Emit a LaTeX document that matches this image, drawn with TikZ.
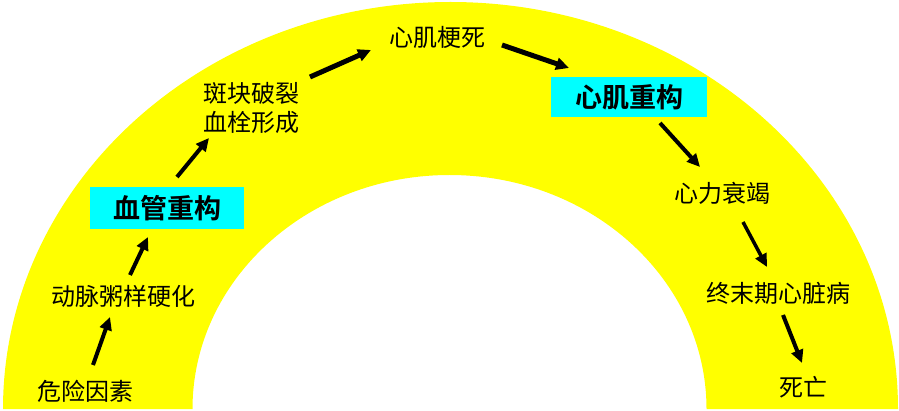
\documentclass[tikz,border=0pt]{standalone}
\usepackage{fontspec}
\newfontfamily\cjk{Noto Sans CJK SC}[BoldFont={Noto Sans CJK SC Bold}]
\usetikzlibrary{arrows.meta}
\definecolor{bandyellow}{RGB}{255,255,0}
\definecolor{boxcyan}{RGB}{0,255,255}
\tikzset{
  lbl/.style={font=\cjk\fontsize{24}{29}\selectfont, inner sep=0pt, align=center, text=black},
  boxlbl/.style={font=\cjk\bfseries\fontsize{27}{30}\selectfont, fill=boxcyan, inner sep=0pt, text=black},
  flow/.style={-{Triangle[length=13pt,width=12pt]}, line width=4.5pt, black}
}
\begin{document}
\begin{tikzpicture}[x=1pt,y=-1pt]
\useasboundingbox (0,0) rectangle (899,411);
\fill[white] (0,0) rectangle (899,411);
\fill[bandyellow] (3,409) arc[start angle=180,end angle=360,x radius=447.5,y radius=407]
  -- (706.5,409) arc[start angle=360,end angle=180,x radius=257,y radius=234] -- cycle;
% nodes
\node[lbl] (a) at (85,391) {危险因素};
\node[lbl] (b) at (123,296) {动脉粥样硬化};
\node[boxlbl, minimum width=154pt, minimum height=42pt] (c) at (167,208) {血管重构};
\node[lbl] (d) at (251,108) {斑块破裂\\血栓形成};
\node[lbl] (e) at (437,37) {心肌梗死};
\node[boxlbl, minimum width=156pt, minimum height=40pt] (f) at (629,97) {心肌重构};
\node[lbl] (g) at (722,193) {心力衰竭};
\node[lbl] (h) at (778,293) {终末期心脏病};
\node[lbl] (i) at (803,387) {死亡};
% arrow anchors
\coordinate (a1) at (93,365);  \coordinate (a2) at (110,317);
\coordinate (b1) at (130,275); \coordinate (b2) at (148,237);
\coordinate (c1) at (177,177); \coordinate (c2) at (209,138);
\coordinate (d1) at (310,77);  \coordinate (d2) at (371,50);
\coordinate (e1) at (502,45);  \coordinate (e2) at (569,68);
\coordinate (f1) at (660,123); \coordinate (f2) at (700,167);
\coordinate (g1) at (743,222); \coordinate (g2) at (767,267);
\coordinate (h1) at (783,315); \coordinate (h2) at (802,363);
\draw[flow, line width=4pt] (a1) -- (a2);
\draw[flow, line width=4pt] (b1) -- (b2);
\draw[flow, line width=4pt] (c1) -- (c2);
\draw[flow, line width=5pt] (d1) -- (d2);
\draw[flow, line width=5pt] (e1) -- (e2);
\draw[flow, line width=4pt] (f1) -- (f2);
\draw[flow, line width=3.5pt] (g1) -- (g2);
\draw[flow, line width=4pt] (h1) -- (h2);
\end{tikzpicture}
\end{document}
